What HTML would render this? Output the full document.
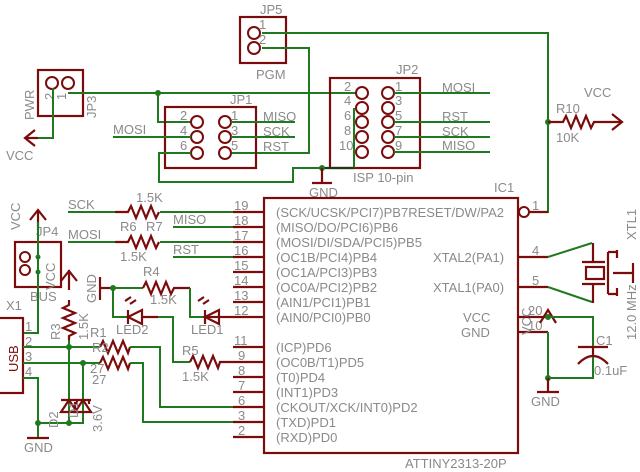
<!DOCTYPE html>
<html><head><meta charset="utf-8"><style>
html,body{margin:0;padding:0;background:#fff;}
svg{display:block;}
text{font-family:"Liberation Sans",sans-serif;fill:#8a8a8a;font-size:13px;}
.r{stroke:#7a0c0c;stroke-width:2.2;fill:none;}
.g{stroke:#1f7a1f;stroke-width:2;fill:none;}
.p{stroke:#7a0c0c;stroke-width:2;fill:#fff;}
.j{fill:#1f7a1f;}
</style></head><body>
<svg width="640" height="472" viewBox="0 0 640 472" xmlns="http://www.w3.org/2000/svg">
<!-- JP5 -->
<rect class="r" x="240" y="17" width="46" height="46"/>
<circle class="p" cx="254" cy="33" r="6"/><circle class="p" cx="254" cy="48" r="6"/>
<text x="260" y="14">JP5</text><text x="256" y="79">PGM</text>
<text x="259" y="29" font-size="11">1</text><text x="259" y="44" font-size="11">2</text>
<polyline class="g" points="262,33 548,33 548,212 536,212"/>
<polyline class="g" points="262,48 309,48 309,153 232,153"/>
<!-- JP3 -->
<rect class="r" x="38" y="70" width="45" height="46"/>
<circle class="p" cx="52" cy="83" r="6"/><circle class="p" cx="68" cy="83" r="6"/>
<text transform="translate(34,120) rotate(-90)">PWR</text>
<text transform="translate(96,118) rotate(-90)">JP3</text>
<text transform="translate(54,100) rotate(-90)" font-size="11">2</text>
<text transform="translate(66,100) rotate(-90)" font-size="11">1</text>
<polyline class="g" points="68,93 362,93"/>
<polyline class="g" points="53,88 53,138 38,138"/>
<polyline class="r" points="38,138 25,138"/><polyline class="r" points="35,130 25,138 35,146"/>
<text x="6" y="160">VCC</text>
<circle class="j" cx="158" cy="93" r="3"/>
<polyline class="g" points="158,93 158,122 197,122"/>
<!-- JP1 -->
<rect class="r" x="165" y="107" width="91" height="61"/>
<g class="p"><circle cx="197" cy="122" r="6"/><circle cx="197" cy="137" r="6"/><circle cx="197" cy="153" r="6"/>
<circle cx="225" cy="122" r="6"/><circle cx="225" cy="137" r="6"/><circle cx="225" cy="153" r="6"/></g>
<text x="230" y="104">JP1</text>
<text x="180" y="120">2</text><text x="180" y="135">4</text><text x="180" y="150">6</text>
<text x="231" y="120">1</text><text x="231" y="135">3</text><text x="231" y="150">5</text>
<polyline class="g" points="231,122 295,122"/><polyline class="g" points="231,137 295,137"/>
<polyline class="g" points="113,137 191,137"/>
<text x="263" y="121">MISO</text><text x="263" y="136">SCK</text><text x="263" y="151">RST</text>
<text x="113" y="134">MOSI</text>
<polyline class="g" points="191,153 159,153 159,182 293,182 293,168 322,168"/>
<!-- JP2 -->
<rect class="r" x="330" y="78" width="90" height="90"/>
<g class="p"><circle cx="362" cy="93" r="6"/><circle cx="362" cy="108" r="6"/><circle cx="362" cy="122" r="6"/><circle cx="362" cy="137" r="6"/><circle cx="362" cy="152" r="6"/>
<circle cx="388" cy="93" r="6"/><circle cx="388" cy="108" r="6"/><circle cx="388" cy="122" r="6"/><circle cx="388" cy="137" r="6"/><circle cx="388" cy="152" r="6"/></g>
<text x="396" y="74">JP2</text>
<text x="344" y="91" font-size="12">2</text><text x="344" y="105" font-size="12">4</text><text x="344" y="120" font-size="12">6</text><text x="344" y="135" font-size="12">8</text><text x="339" y="150" font-size="12">10</text>
<text x="395" y="91" font-size="12">1</text><text x="395" y="105" font-size="12">3</text><text x="395" y="120" font-size="12">5</text><text x="395" y="135" font-size="12">7</text><text x="395" y="150" font-size="12">9</text>
<polyline class="g" points="354,108 354,168"/>
<polyline class="r" points="322,168 354,168" style="stroke:#1a3a1a"/>
<circle class="j" cx="322" cy="168" r="3"/>
<polyline class="r" points="322,168 322,183"/><polyline class="r" points="312,183 332,183"/>
<text x="309" y="197">GND</text>
<text x="353" y="182">ISP 10-pin</text>
<polyline class="g" points="394,93 490,93"/><polyline class="g" points="394,122 490,122"/><polyline class="g" points="394,137 490,137"/><polyline class="g" points="394,152 490,152"/>
<text x="442" y="92">MOSI</text><text x="442" y="121">RST</text><text x="442" y="136">SCK</text><text x="442" y="150">MISO</text>
<!-- R10 -->
<circle class="j" cx="548" cy="122" r="3"/>
<polyline class="r" points="548,122 563,122 566,116 571,128 576,116 581,128 586,116 591,128 594,122 622,122"/>
<polyline class="r" points="612,114 622,122 612,130"/>
<text x="556" y="113">R10</text><text x="556" y="142">10K</text><text x="584" y="97">VCC</text>
<!-- IC1 -->
<rect class="r" x="264" y="198" width="254" height="255"/>
<text x="494" y="192">IC1</text>
<text x="405" y="468">ATTINY2313-20P</text>
<g font-size="12.5">
<text x="276" y="217">(SCK/UCSK/PCI7)PB7RESET/DW/PA2</text>
<text x="276" y="232">(MISO/DO/PCI6)PB6</text>
<text x="276" y="247">(MOSI/DI/SDA/PCI5)PB5</text>
<text x="276" y="262">(OC1B/PCI4)PB4</text>
<text x="276" y="277">(OC1A/PCI3)PB3</text>
<text x="276" y="292">(OC0A/PCI2)PB2</text>
<text x="276" y="307">(AIN1/PCI1)PB1</text>
<text x="276" y="322">(AIN0/PCI0)PB0</text>
<text x="276" y="352">(ICP)PD6</text>
<text x="276" y="367">(OC0B/T1)PD5</text>
<text x="276" y="382">(T0)PD4</text>
<text x="276" y="397">(INT1)PD3</text>
<text x="276" y="412">(CKOUT/XCK/INT0)PD2</text>
<text x="276" y="427">(TXD)PD1</text>
<text x="276" y="442">(RXD)PD0</text>
<text x="433" y="262">XTAL2(PA1)</text>
<text x="433" y="292">XTAL1(PA0)</text>
<text x="463" y="322">VCC</text>
<text x="461" y="337">GND</text>
</g>
<g class="r">
<path d="M233 212H264M233 227H264M233 242H264M233 257H264M233 272H264M233 287H264M233 302H264M233 317H264M233 347H264M233 362H264M233 377H264M233 392H264M233 407H264M233 422H264M233 437H264"/>
<path d="M530 212H548M518 257H548M518 287H548M518 317H548M518 332H548"/>
</g>
<circle class="p" cx="524" cy="212" r="5"/>
<g font-size="12">
<text x="234" y="210">19</text><text x="234" y="225">18</text><text x="234" y="240">17</text><text x="234" y="255">16</text><text x="234" y="270">15</text><text x="234" y="285">14</text><text x="234" y="300">13</text><text x="234" y="315">12</text><text x="234" y="345">11</text><text x="238" y="360">9</text><text x="238" y="375">8</text><text x="238" y="390">7</text><text x="238" y="405">6</text><text x="238" y="420">3</text><text x="238" y="435">2</text>
<text x="532" y="210">1</text><text x="532" y="255">4</text><text x="532" y="285">5</text><text x="528" y="315">20</text><text x="528" y="330">10</text>
</g>
<!-- crystal -->
<polyline class="g" points="548,257 592,243"/><polyline class="g" points="548,287 592,302"/>
<g class="r">
<path d="M593 243V262M593 284V303M582 262H605M582 284H605"/>
<rect x="586" y="267" width="18" height="12"/>
<path d="M608 252V294M608 252H617M608 294H617M617 250V258M617 288V296M613 273H633M633 263V283"/>
</g>
<text transform="translate(636,240) rotate(-90)">XTL1</text>
<text transform="translate(636,340) rotate(-90)">12.0 MHz</text>
<!-- VCC / C1 -->
<polyline class="r" points="540,323 548,310 556,323"/>
<text transform="translate(531,335) rotate(-90)">VCC</text>
<circle class="j" cx="548" cy="317" r="3"/>
<polyline class="g" points="548,317 593,317 593,347"/>
<polyline class="g" points="548,332 548,378 593,378 593,357"/>
<circle class="j" cx="548" cy="378" r="3"/>
<g class="r"><path d="M578 347H608M578 364Q593 348 608 364M593 357V347"/>
<path d="M548 378V392M537 392H559"/></g>
<text x="596" y="345">C1</text><text x="594" y="375">0.1uF</text>
<text x="531" y="406">GND</text>
<!-- SCK/MOSI resistors -->
<polyline class="g" points="68,212 115,212"/><polyline class="g" points="160,212 233,212"/>
<polyline class="r" points="115,212 128,212 131,206 136,218 141,206 146,218 151,206 156,218 159,212"/>
<polyline class="g" points="68,242 115,242"/><polyline class="g" points="160,242 233,242"/>
<polyline class="r" points="115,242 128,242 131,236 136,248 141,236 146,248 151,236 156,248 159,242"/>
<polyline class="g" points="173,227 233,227"/><polyline class="g" points="173,257 233,257"/>
<text x="68" y="209">SCK</text><text x="68" y="239">MOSI</text><text x="173" y="224">MISO</text><text x="173" y="254">RST</text>
<text x="136" y="202">1.5K</text><text x="120" y="231">R6</text><text x="146" y="231">R7</text><text x="120" y="261">1.5K</text>
<!-- JP4 -->
<polyline class="r" points="38,230 38,210"/><polyline class="r" points="30,220 38,210 46,220"/>
<text transform="translate(20,230) rotate(-90)">VCC</text>
<rect class="r" x="15" y="242" width="46" height="45"/>
<circle class="p" cx="25" cy="257" r="5"/><circle class="p" cx="25" cy="270" r="5"/>
<text x="36" y="236">JP4</text><text transform="translate(55,290) rotate(-90)">VCC</text><text x="30" y="301">BUS</text>
<polyline class="g" points="38,222 38,333 23,333"/>
<circle class="j" cx="38" cy="257" r="2.5"/><circle class="j" cx="38" cy="272" r="2.5"/>
<!-- USB X1 -->
<rect class="r" x="-5" y="318" width="28" height="75"/>
<text x="6" y="310">X1</text>
<text transform="translate(18,372) rotate(-90)" font-size="17" style="fill:#7a0c0c">USB</text>
<text x="25" y="331" font-size="12">1</text><text x="25" y="346" font-size="12">2</text><text x="25" y="361" font-size="12">3</text><text x="25" y="376" font-size="12">4</text>
<!-- R3 -->
<polyline class="r" points="69,290 69,270"/><polyline class="r" points="61,281 69,271 77,281"/>
<polyline class="r" points="69,300 69,305 63,308 75,313 63,318 75,323 63,328 75,333 69,336 69,340"/>
<polyline class="g" points="69,340 69,423"/>
<text transform="translate(60,340) rotate(-90)">R3</text>
<text transform="translate(88,340) rotate(-90)">1.5K</text>
<!-- USB lines -->
<polyline class="g" points="23,347 100,347"/><polyline class="g" points="23,363 100,363"/>
<circle class="j" cx="69" cy="347" r="3"/><circle class="j" cx="83" cy="363" r="3"/>
<polyline class="r" points="100,347 103,341 108,353 113,341 118,353 123,341 128,353 130,347"/>
<polyline class="r" points="100,363 103,357 108,369 113,357 118,369 123,357 128,369 130,363"/>
<polyline class="g" points="130,347 160,347 160,407 233,407"/>
<polyline class="g" points="130,363 143,363 143,422 233,422"/>
<text x="90" y="337">R1</text><text x="92" y="352">R2</text><text x="90" y="373">27</text><text x="92" y="384">27</text>
<polyline class="g" points="83,363 83,423 38,423"/>
<polyline class="g" points="23,378 38,378 38,438"/>
<circle class="j" cx="38" cy="423" r="3"/><circle class="j" cx="69" cy="423" r="3"/>
<g class="r"><path d="M61 412H77L69 400Z M61 400H77 M75 412V402 M77 400V404"/><path d="M75 412H91L83 400Z M75 400H91 M89 404V400"/>
<path d="M38 438V438M27 438H49"/></g>
<text transform="translate(58,428) rotate(-90)">D2</text><text transform="translate(102,432) rotate(-90)">3.6V</text><text transform="translate(78,418) rotate(-90)">D1</text>
<text x="24" y="452">GND</text>
<!-- GND LEDs -->
<polyline class="r" points="100,277 100,300"/><polyline class="r" points="100,288 113,288"/>
<text transform="translate(96,303) rotate(-90)">GND</text>
<circle class="j" cx="113" cy="288" r="3"/>
<polyline class="g" points="113,288 143,288"/>
<polyline class="r" points="143,288 146,282 151,294 156,282 161,294 166,282 171,294 174,288 190,288"/>
<polyline class="g" points="190,288 190,317 205,317"/>
<polyline class="r" points="205,317 220,317"/><path class="r" d="M205 317L219 310V324Z M205 310V324"/>
<polyline class="r" points="220,317 233,317"/>
<text x="143" y="276">R4</text><text x="150" y="304">1.5K</text>
<polyline class="g" points="113,288 113,317 128,317"/>
<path class="r" d="M128 317L142 310V324Z M128 310V324 M142 317H158"/>
<polyline class="g" points="158,317 173,317 173,362 190,362"/>
<polyline class="r" points="190,362 193,356 198,368 203,356 208,368 213,356 218,368 220,362 233,362"/>
<text x="116" y="334">LED2</text><text x="191" y="334">LED1</text>
<text x="182" y="355">R5</text><text x="182" y="381">1.5K</text>
<g class="r" stroke-width="1.5"><path d="M130 304L136 300M125 301L131 297M203 304L209 300M198 301L204 297"/></g>
</svg>
</body></html>
